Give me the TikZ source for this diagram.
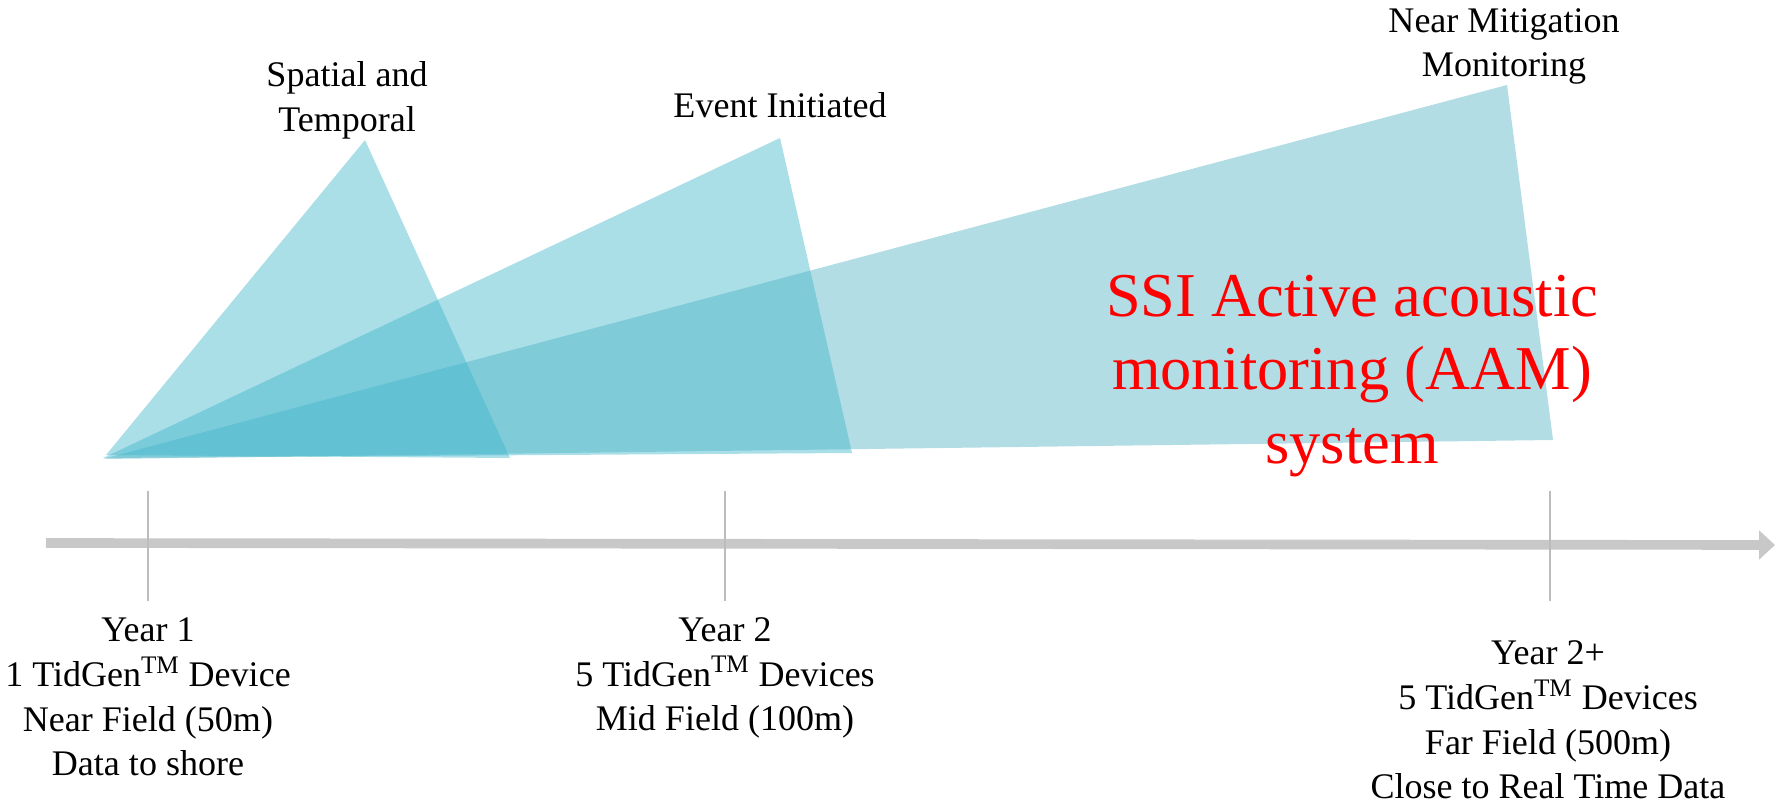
\documentclass[tikz,border=0pt]{standalone}
\usepackage{fontspec}
\setmainfont{Liberation Serif}
\usepackage{tikz}
\usetikzlibrary{positioning,arrows.meta}

\definecolor{wedge}{RGB}{60,180,202}
\definecolor{wedgegray}{RGB}{78,176,192}
\definecolor{axisgray}{RGB}{200,200,200}
\definecolor{tickgray}{RGB}{188,188,188}

\tikzset{
  wedgefill/.style={fill=wedge, fill opacity=0.43, draw=none},
  phase/.style={align=center, inner sep=0pt, font=\fontsize{20.5}{25.5}\selectfont},
  milestone/.style={align=center, inner sep=0pt, font=\fontsize{20.5}{25.5}\selectfont},
  aamtext/.style={align=center, inner sep=0pt, text=red, font=\fontsize{35.5}{42}\selectfont},
  axisline/.style={draw=axisgray, line width=5.5pt, -{Triangle[length=9pt,width=16pt]}},
  tickline/.style={draw=tickgray, line width=1.6pt}
}

\begin{document}
\begin{tikzpicture}[x=0.02cm, y=-0.02cm]
  \useasboundingbox (0,0) rectangle (1777,807);

  % wedges
  \coordinate (apexA) at (365,140);
  \coordinate (apexB) at (780,138);
  \coordinate (apexC) at (1507,85);
  \fill[wedgefill, fill=wedgegray] (103,459) -- (apexC) -- (1553,440) -- cycle;
  \fill[wedgefill] (103,458) -- (apexB) -- (852,453) -- cycle;
  \fill[wedgefill] (106,455) -- (apexA) -- (510,458) -- cycle;

  % time line
  \coordinate (tstart) at (46,543);
  \coordinate (tend) at (1775,545);
  \draw[axisline] (tstart) -- (tend);
  \foreach \x/\name in {148/yone, 725/ytwo, 1550/ythree} {
    \coordinate (\name top) at (\x,491);
    \coordinate (\name bot) at (\x,601);
    \draw[tickline] (\name top) -- (\name bot);
  }

  % labels
  \node[milestone] (spatial) [above = 0.01cm of apexA, xshift=-0.36cm] {Spatial and\\Temporal};
  \node[milestone] (event) [above = 0.4cm of apexB] {Event Initiated};
  \node[milestone] (mitigation) [above = 0.0cm of apexC, xshift=-0.06cm] {Near Mitigation\\Monitoring};

  \node[aamtext] (aam) at (1352,376) {SSI Active acoustic\\monitoring (AAM)\\system};

  \node[phase] (yearone) at (148,697) {Year 1\\1 TidGen\textsuperscript{TM} Device\\Near Field (50m)\\Data to shore};
  \node[phase] (yeartwo) at (725,678) {Year 2\\5 TidGen\textsuperscript{TM} Devices\\Mid Field (100m)};
  \node[phase] (yearthree) at (1548,720) {Year 2+\\5 TidGen\textsuperscript{TM} Devices\\Far Field (500m)\\Close to Real Time Data};
\end{tikzpicture}
\end{document}
